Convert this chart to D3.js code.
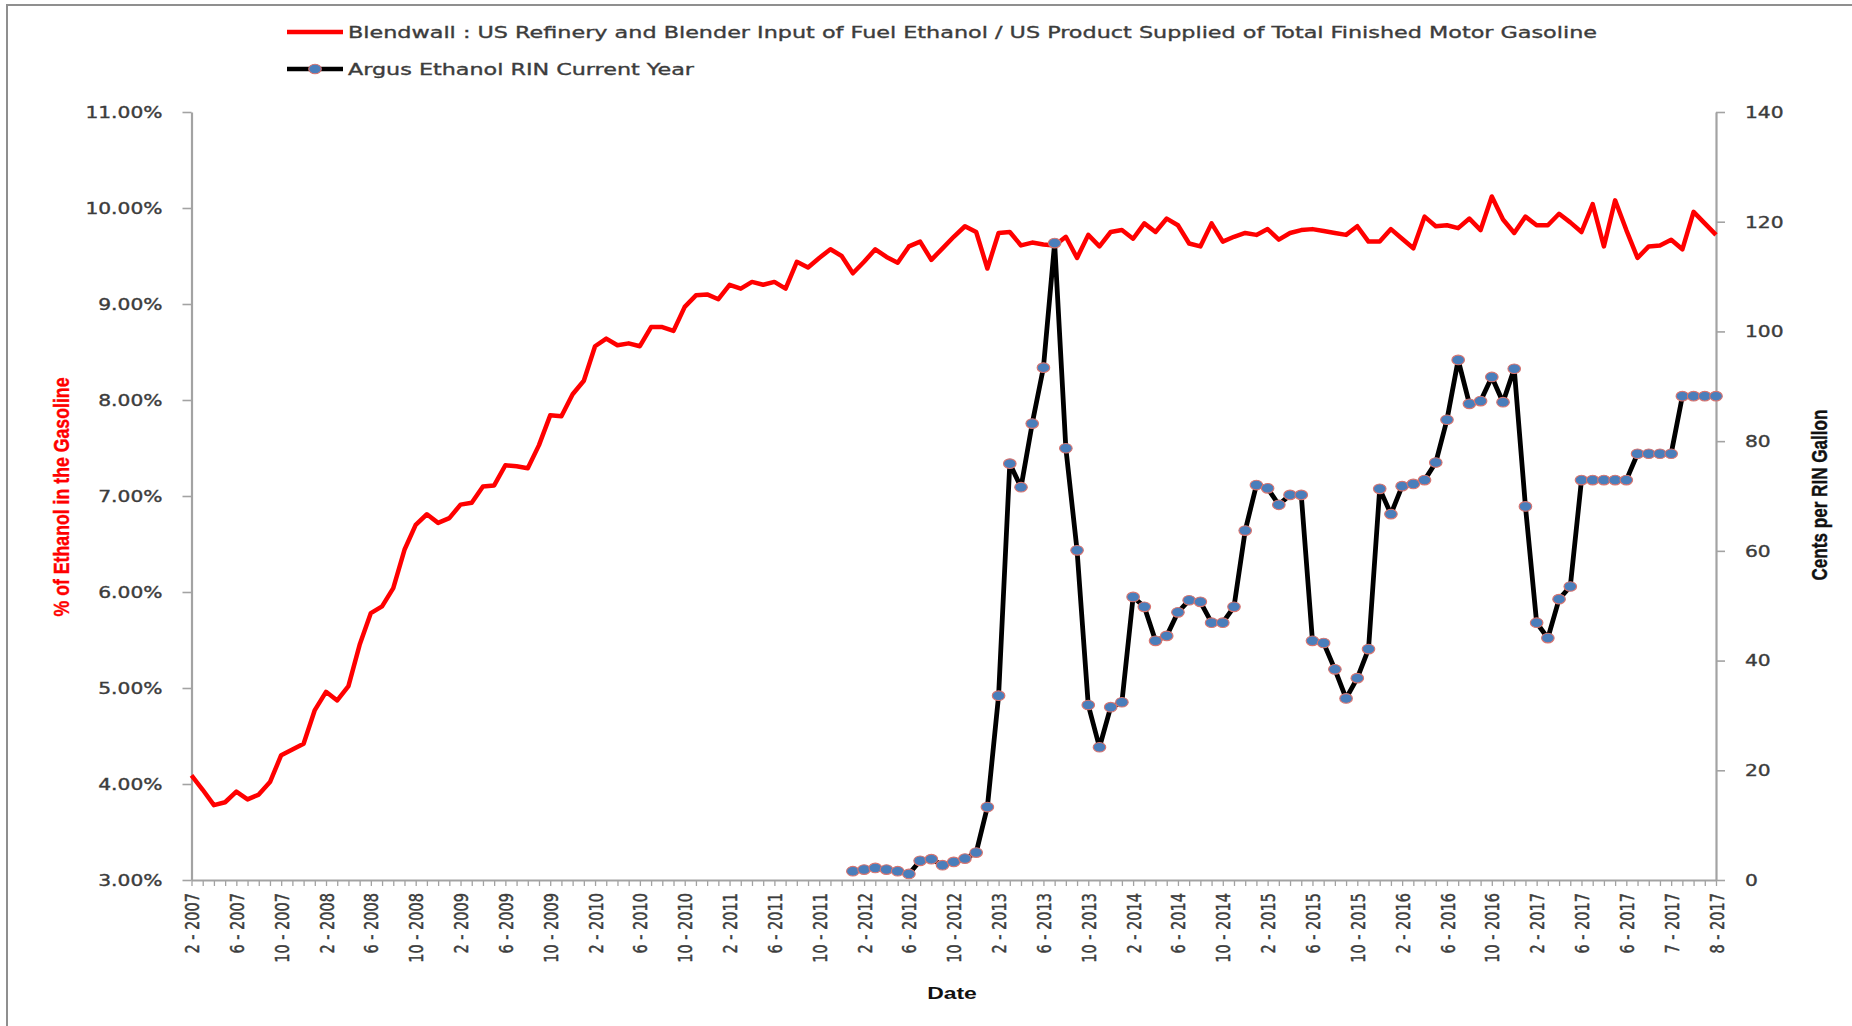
<!DOCTYPE html>
<html><head><meta charset="utf-8">
<script src="https://cdn.jsdelivr.net/npm/d3@7"></script>
<style>html,body{margin:0;padding:0;background:#fff;overflow:hidden}</style>
</head><body>
<svg id="chart" width="1852" height="1026"></svg>
<script>
// ---------------- DATA ----------------
const categories = [
"2 - 2007","3 - 2007","4 - 2007","5 - 2007","6 - 2007","7 - 2007","8 - 2007","9 - 2007","10 - 2007","11 - 2007","12 - 2007",
"1 - 2008","2 - 2008","3 - 2008","4 - 2008","5 - 2008","6 - 2008","7 - 2008","8 - 2008","9 - 2008","10 - 2008","11 - 2008","12 - 2008",
"1 - 2009","2 - 2009","3 - 2009","4 - 2009","5 - 2009","6 - 2009","7 - 2009","8 - 2009","9 - 2009","10 - 2009","11 - 2009","12 - 2009",
"1 - 2010","2 - 2010","3 - 2010","4 - 2010","5 - 2010","6 - 2010","7 - 2010","8 - 2010","9 - 2010","10 - 2010","11 - 2010","12 - 2010",
"1 - 2011","2 - 2011","3 - 2011","4 - 2011","5 - 2011","6 - 2011","7 - 2011","8 - 2011","9 - 2011","10 - 2011","11 - 2011","12 - 2011",
"1 - 2012","2 - 2012","3 - 2012","4 - 2012","5 - 2012","6 - 2012","7 - 2012","8 - 2012","9 - 2012","10 - 2012","11 - 2012","12 - 2012",
"1 - 2013","2 - 2013","3 - 2013","4 - 2013","5 - 2013","6 - 2013","7 - 2013","8 - 2013","9 - 2013","10 - 2013","11 - 2013","12 - 2013",
"1 - 2014","2 - 2014","3 - 2014","4 - 2014","5 - 2014","6 - 2014","7 - 2014","8 - 2014","9 - 2014","10 - 2014","11 - 2014","12 - 2014",
"1 - 2015","2 - 2015","3 - 2015","4 - 2015","5 - 2015","6 - 2015","7 - 2015","8 - 2015","9 - 2015","10 - 2015","11 - 2015","12 - 2015",
"1 - 2016","2 - 2016","3 - 2016","4 - 2016","5 - 2016","6 - 2016","7 - 2016","8 - 2016","9 - 2016","10 - 2016","11 - 2016","12 - 2016",
"1 - 2017","2 - 2017","3 - 2017","4 - 2017","5 - 2017","6 - 2017",
"6 - 2017","6 - 2017","6 - 2017","6 - 2017",
"7 - 2017","7 - 2017","7 - 2017","7 - 2017",
"8 - 2017","8 - 2017","8 - 2017","8 - 2017"
];

// Blendwall (% of ethanol in gasoline), one value per category
const blendwall = [
4.09,3.94,3.78,3.81,3.92,3.84,3.89,4.02,4.30,4.36,4.42,4.77,4.96,4.87,5.02,5.45,5.78,5.85,6.04,6.44,
6.70,6.81,6.72,6.77,6.91,6.93,7.10,7.11,7.32,7.31,7.29,7.53,7.84,7.83,8.06,8.20,8.56,8.64,8.57,8.59,
8.56,8.76,8.76,8.72,8.97,9.09,9.10,9.05,9.20,9.16,9.23,9.20,9.23,9.16,9.44,9.38,9.48,9.57,9.50,9.32,
9.44,9.57,9.49,9.43,9.60,9.65,9.46,9.58,9.70,9.81,9.75,9.37,9.74,9.75,9.61,9.64,9.62,9.61,9.70,9.48,
9.72,9.60,9.75,9.77,9.68,9.84,9.75,9.89,9.82,9.63,9.60,9.84,9.65,9.70,9.74,9.72,9.78,9.67,9.74,9.77,
9.78,9.76,9.74,9.72,9.81,9.65,9.65,9.78,9.68,9.58,9.91,9.81,9.82,9.79,9.89,9.77,10.12,9.88,9.74,9.91,
9.82,9.82,9.94,9.85,9.75,10.04,9.60,10.08,9.77,9.48,9.60,9.61,9.67,9.57,9.96,9.84,9.72
];

// Argus Ethanol RIN current year (cents per RIN gallon), starting at category index rinFirstIndex
const rinFirstIndex = 59;
const rinValues = [
1.6,1.9,2.2,1.9,1.6,1.1,3.5,3.8,2.7,3.3,3.9,5.0,
13.3,33.6,75.9,71.6,83.2,93.4,116.1,78.7,60.1,31.9,24.2,31.5,32.4,
51.6,49.8,43.6,44.5,48.8,51.0,50.7,46.9,46.9,49.8,63.7,72.0,71.4,68.4,70.2,70.2,
43.6,43.2,38.4,33.1,36.8,42.1,71.3,66.7,71.8,72.2,72.9,76.1,83.9,94.8,86.8,87.3,91.7,87.1,93.2,68.1,46.9,44.1,51.2,53.5,
72.9,72.9,72.9,72.9,72.9,77.7,77.7,77.7,77.7,88.2,88.2,88.2,88.2
];

const leftTicks = [3,4,5,6,7,8,9,10,11];
const rightTicks = [0,20,40,60,80,100,120,140];
const labelEvery = 4;

const legendLabels = [
  "Blendwall : US Refinery and Blender Input of Fuel Ethanol / US Product Supplied of Total Finished Motor Gasoline",
  "Argus Ethanol RIN Current Year"
];
const leftTitle = "% of Ethanol in the Gasoline";
const rightTitle = "Cents per RIN Gallon";
const xTitle = "Date";

// ---------------- LAYOUT ----------------
const W = 1852, H = 1026;
const SX = 1.35; // horizontal stretch of text (original picture is stretched)
const plot = {left: 191.5, right: 1716, top: 112, bottom: 880};
const axisColor = "#a3a3a3";
const textColor = "#3c3c3c";
const tickFont = "'DejaVu Sans', Verdana, sans-serif";
const titleFont = "'Liberation Sans', Arial, sans-serif";

const svg = d3.select("#chart");
svg.append("rect").attr("width", W).attr("height", H).attr("fill", "#fff");
svg.append("rect").attr("x", 7).attr("y", 5).attr("width", W + 20).attr("height", H + 20)
  .attr("fill", "none").attr("stroke", "#8f8f8f").attr("stroke-width", 2);

const idx = d3.range(categories.length);
const x = d3.scalePoint().domain(idx).range([plot.left, plot.right]);
const yL = d3.scaleLinear().domain([3, 11]).range([plot.bottom, plot.top]);
const yR = d3.scaleLinear().domain([0, 140]).range([plot.bottom, plot.top]);

function styleAxis(g) {
  g.select(".domain").attr("stroke", axisColor).attr("stroke-width", 2.2);
  g.selectAll(".tick line").attr("stroke", axisColor).attr("stroke-width", 1.6);
}
function styleTickText(sel, size) {
  sel.attr("fill", textColor).attr("stroke", textColor).attr("stroke-width", 0.35)
    .style("font-family", tickFont).style("font-size", size);
}

// Left axis
const gL = svg.append("g").attr("transform", `translate(${plot.left},0)`)
  .call(d3.axisLeft(yL).tickValues(leftTicks).tickSize(9).tickSizeOuter(0)
    .tickFormat(d => d.toFixed(2) + "%"));
styleAxis(gL);
gL.selectAll(".tick text").attr("x", null).attr("dy", "0.36em")
  .attr("transform", `translate(-29,0) scale(${SX},1)`)
  .attr("text-anchor", "end").call(styleTickText, "15px");

// Right axis
const gR = svg.append("g").attr("transform", `translate(${plot.right},0)`)
  .call(d3.axisRight(yR).tickValues(rightTicks).tickSize(9).tickSizeOuter(0));
styleAxis(gR);
gR.selectAll(".tick text").attr("x", null).attr("dy", "0.36em")
  .attr("transform", `translate(29,0) scale(${SX},1)`)
  .attr("text-anchor", "start").call(styleTickText, "15px");

// Bottom axis
const gB = svg.append("g").attr("transform", `translate(0,${plot.bottom})`)
  .call(d3.axisBottom(x).tickValues(idx).tickSize(6).tickSizeOuter(0)
    .tickFormat(i => i % labelEvery === 0 ? categories[i] : ""));
styleAxis(gB);
gB.selectAll(".tick line").attr("stroke-width", 1.3);
gB.selectAll(".tick text").attr("y", null).attr("dy", "0.36em")
  .attr("transform", `translate(0,13) scale(${SX},1) rotate(-90)`)
  .attr("text-anchor", "end").call(styleTickText, "14.5px");

// Series
const redLine = d3.line().x((d, i) => x(i)).y(d => yL(d));
svg.append("path").datum(blendwall).attr("d", redLine)
  .attr("fill", "none").attr("stroke", "#ff0000").attr("stroke-width", 4.5)
  .attr("stroke-linejoin", "round");

const rinData = rinValues.map((v, k) => ({i: rinFirstIndex + k, v}));
const rinLine = d3.line().x(d => x(d.i)).y(d => yR(d.v));
svg.append("path").datum(rinData).attr("d", rinLine)
  .attr("fill", "none").attr("stroke", "#000").attr("stroke-width", 4.8)
  .attr("stroke-linejoin", "round");
svg.append("g").selectAll("ellipse").data(rinData).join("ellipse")
  .attr("cx", d => x(d.i)).attr("cy", d => yR(d.v))
  .attr("rx", 6.3).attr("ry", 4.8)
  .attr("fill", "#4a7ebb").attr("stroke", "#d9746f").attr("stroke-width", 1.1);

// Legend
const lg = svg.append("g");
lg.append("line").attr("x1", 287).attr("x2", 343).attr("y1", 32).attr("y2", 32)
  .attr("stroke", "#ff0000").attr("stroke-width", 4.5);
lg.append("text").attr("x", 348).attr("y", 32).attr("dy", "0.36em")
  .attr("textLength", 1249).attr("lengthAdjust", "spacingAndGlyphs")
  .call(styleTickText, "16px")
  .text(legendLabels[0]);
lg.append("line").attr("x1", 287).attr("x2", 343).attr("y1", 69).attr("y2", 69)
  .attr("stroke", "#000").attr("stroke-width", 4.5);
lg.append("ellipse").attr("cx", 315).attr("cy", 69).attr("rx", 6.3).attr("ry", 4.8)
  .attr("fill", "#4a7ebb").attr("stroke", "#d9746f").attr("stroke-width", 1.1);
lg.append("text").attr("x", 348).attr("y", 69).attr("dy", "0.36em")
  .attr("textLength", 346).attr("lengthAdjust", "spacingAndGlyphs")
  .call(styleTickText, "16px")
  .text(legendLabels[1]);

// Axis titles
svg.append("text").attr("transform", `translate(61,497) scale(${SX},1) rotate(-90)`)
  .attr("text-anchor", "middle").attr("dy", "0.36em")
  .attr("textLength", 239).attr("lengthAdjust", "spacingAndGlyphs")
  .attr("fill", "#ff0000").attr("stroke", "#ff0000").attr("stroke-width", 0.3)
  .style("font-family", titleFont).style("font-weight", "bold")
  .style("font-size", "17px").text(leftTitle);
svg.append("text").attr("transform", `translate(1819,495) scale(${SX},1) rotate(-90)`)
  .attr("text-anchor", "middle").attr("dy", "0.36em")
  .attr("textLength", 171).attr("lengthAdjust", "spacingAndGlyphs")
  .attr("fill", "#111").attr("stroke", "#111").attr("stroke-width", 0.3)
  .style("font-family", titleFont).style("font-weight", "bold")
  .style("font-size", "17px").text(rightTitle);
svg.append("text").attr("transform", `translate(952,993) scale(${SX},1)`)
  .attr("text-anchor", "middle").attr("dy", "0.36em")
  .attr("fill", "#111").style("font-family", titleFont).style("font-weight", "bold")
  .style("font-size", "17px").text(xTitle);
</script>
</body></html>
